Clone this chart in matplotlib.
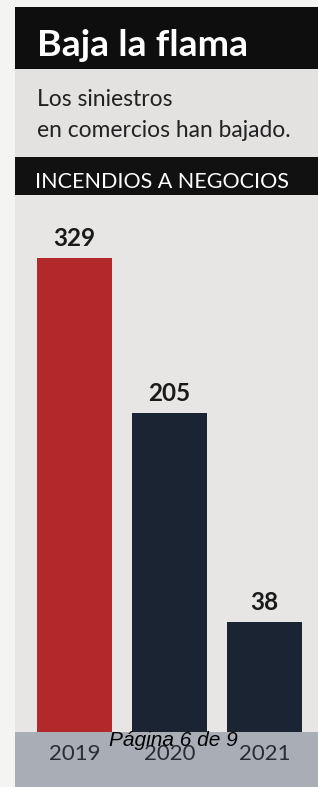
import matplotlib.pyplot as plt
from matplotlib.patches import Rectangle

years = ["2019", "2020", "2021"]
incendios = [329, 205, 38]
bar_colors = ["#b3292b", "#1b2433", "#1b2433"]

TITLE = "Baja la flama"
SUBTITLE = ["Los siniestros", "en comercios han bajado."]
HEADER = "INCENDIOS A NEGOCIOS"
PAGE = "Página 6 de 9"

W, H = 318, 787
BASE = -50  # bars start below zero in the original graphic
FONT = ["Lato", "DejaVu Sans"]

fig = plt.figure(figsize=(W / 100, H / 100), dpi=100)
fig.patch.set_facecolor("#f4f4f3")

# background drawn in pixel coordinates
bg = fig.add_axes([0, 0, 1, 1])
bg.set_xlim(0, W)
bg.set_ylim(H, 0)
bg.axis("off")

def band(y0, y1, color):
    bg.add_patch(Rectangle((15, y0), W - 15, y1 - y0, color=color, lw=0))

band(7, 69, "#0e0e0e")
band(69, 157, "#e3e2e1")
band(157, 195, "#111111")
band(195, 732, "#e7e6e5")
band(732, H, "#a9adb5")

renderer = fig.canvas.get_renderer()

def fit(t, target_px):
    # shrink/grow a text so its width matches the original
    w = t.get_window_extent(renderer).width
    t.set_fontsize(t.get_fontsize() * target_px / w)

t = bg.text(37, 56, TITLE, color="white", fontsize=25, fontweight="bold",
            family=FONT, va="baseline")
fit(t, 211)
bg.text(37, 106, SUBTITLE[0], color="#222222", fontsize=16.5,
        family=FONT, va="baseline")
t = bg.text(37, 137, SUBTITLE[1], color="#222222", fontsize=16.5,
            family=FONT, va="baseline")
fit(t, 253)
t = bg.text(35, 188, HEADER, color="white", fontsize=18,
            family=FONT, va="baseline")
fit(t, 253)

# chart
px_left, px_right, px_top, px_bottom = 15, 318, 195, 732
ax = fig.add_axes([px_left / W, 1 - px_bottom / H,
                   (px_right - px_left) / W, (px_bottom - px_top) / H])
ax.patch.set_alpha(0)
step = 95.0
x0 = -(74.5 - px_left) / step
ax.set_xlim(x0, x0 + (px_right - px_left) / step)
ax.set_ylim(BASE, BASE + (px_bottom - px_top) / 1.25)

x = range(len(years))
heights = [v - BASE for v in incendios]
ax.bar(x, heights, bottom=BASE, width=0.79, color=bar_colors)

for xi, v in zip(x, incendios):
    ax.annotate(str(v), (xi, v), xytext=(0, 6), textcoords="offset points",
                ha="center", va="bottom", fontsize=17.5, fontweight="bold",
                color="#1a1a1a", family=FONT)

ax.set_xticks(list(x))
ax.set_xticklabels(years, fontsize=16, color="#2a2d33", family=FONT)
ax.tick_params(axis="x", length=0, pad=9)
ax.set_yticks([])
for s in ax.spines.values():
    s.set_visible(False)

# page footer stamped over the chart
fig.text(173 / W, 1 - 746 / H, PAGE, color="black", fontsize=15,
         style="italic", family=["Liberation Sans", "DejaVu Sans"],
         ha="center", va="baseline", zorder=10)

fig.savefig("out.png", dpi=100, facecolor=fig.get_facecolor())
